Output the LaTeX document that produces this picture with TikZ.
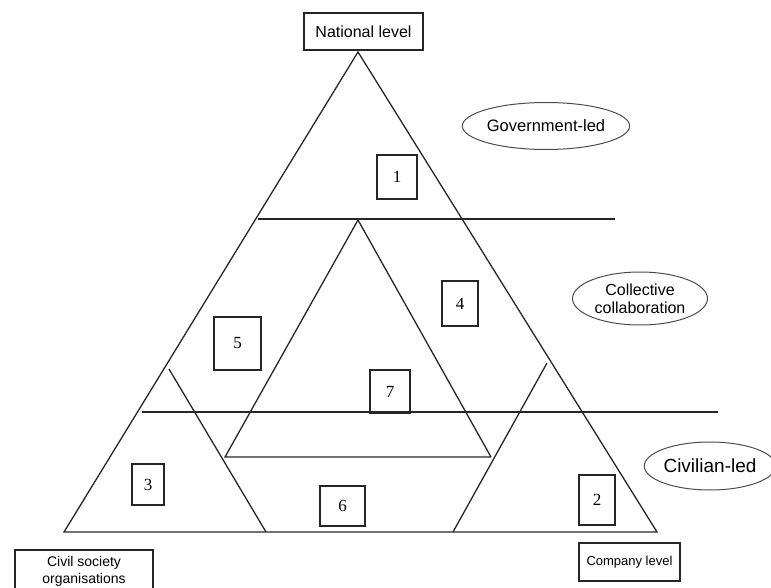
\documentclass[tikz,border=0pt]{standalone}
\usepackage{fontspec}
\setmainfont{Liberation Serif}
\newfontfamily\labelfont{Liberation Sans}
\usepackage{tikz}
\usetikzlibrary{shapes.geometric}
\tikzset{
  edge/.style={line width=1.3pt,black!85},
  numbox/.style={rectangle,draw=black!85,line width=1.3pt,inner sep=0pt,
    align=center,font=\fontsize{17}{20}\selectfont},
  levelbox/.style={rectangle,draw=black!85,line width=1.3pt,inner sep=0pt,
    align=center},
  leadoval/.style={ellipse,draw=black!70,line width=1pt,inner sep=0pt,
    align=center}
}

\begin{document}
\begin{tikzpicture}[x=1pt,y=-1pt]
  \useasboundingbox (0,0) rectangle (771,588);
  % outer triangle
  \coordinate (top) at (358,52);
  \coordinate (botL) at (64,532);
  \coordinate (botR) at (657,532);
  \draw[edge] (top) -- (botL) -- (botR) -- cycle;
  % level lines
  \draw[edge] (258,219) -- (615,219);
  \draw[edge] (142,412) -- (718,412);
  % inner triangle
  \coordinate (itop) at (358,220);
  \coordinate (ibotL) at (225,457);
  \coordinate (ibotR) at (491,457);
  \draw[edge] (ibotR) -- (itop) -- (ibotL) -- (ibotR);
  % small corner triangles
  \draw[edge] (169,369) -- (266,532);
  \draw[edge] (547,363) -- (453,532);
  % numbered boxes
  \node[numbox,minimum width=40pt,minimum height=44pt] (n1) at (397,177) {1};
  \node[numbox,minimum width=36pt,minimum height=45pt] (n4) at (460,303.5) {4};
  \node[numbox,minimum width=47pt,minimum height=53pt] (n5) at (237.5,343.5) {5};
  \node[numbox,minimum width=40pt,minimum height=43pt] (n7) at (390,391.5) {7};
  \node[numbox,minimum width=32pt,minimum height=41pt] (n3) at (148,484.5) {3};
  \node[numbox,minimum width=45pt,minimum height=40pt] (n6) at (342.5,506) {6};
  \node[numbox,minimum width=36pt,minimum height=50pt] (n2) at (597,500) {2};
  % level labels
  \node[levelbox,minimum width=119pt,minimum height=37pt,
    font=\labelfont\fontsize{16}{19}\selectfont] (national) at (363.5,31.5) {National level};
  \node[levelbox,minimum width=138pt,minimum height=42pt,
    font=\labelfont\fontsize{14}{17}\selectfont] (civil) at (84,571) {Civil society\\organisations};
  \node[levelbox,minimum width=101pt,minimum height=38pt,
    font=\labelfont\fontsize{13}{16}\selectfont] (company) at (629.5,562) {Company level};
  % who leads
  \node[leadoval,minimum width=138pt,minimum height=47pt,
    font=\labelfont\fontsize{16.5}{19}\selectfont] (govled) at (546,126) {Government-led};
  \node[leadoval,minimum width=135pt,minimum height=53pt,
    font=\labelfont\fontsize{16}{18}\selectfont] (collab) at (640,298.5) {Collective\\collaboration};
  \node[leadoval,minimum width=122pt,minimum height=48pt,
    font=\labelfont\fontsize{19}{22}\selectfont] (civled) at (710,466) {Civilian-led};
\end{tikzpicture}
\end{document}
